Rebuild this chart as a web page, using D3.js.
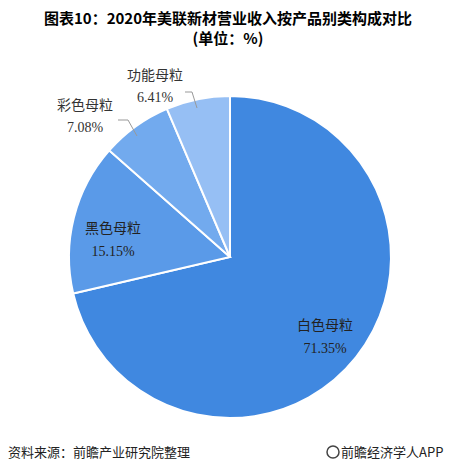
<!DOCTYPE html><html><head><meta charset="utf-8">
<script src="https://cdn.jsdelivr.net/npm/d3@7"></script>
<style>body{margin:0;background:#fff}</style></head><body>
<svg id="c" width="456" height="474"></svg>
<script>
const categories=["白色母粒","黑色母粒","彩色母粒","功能母粒"];
const values=[71.35,15.15,7.08,6.41];
const colors=["#4088e0","#5a9ae8","#72aaee","#96bff4"];
const svg=d3.select("#c");
const F="'Noto Sans CJK SC',sans-serif";
svg.append("text").attr("x",228).attr("y",24).attr("text-anchor","middle").attr("font-family",F).attr("font-weight","bold").attr("font-size",15).text("图表10：2020年美联新材营业收入按产品别类构成对比");
svg.append("text").attr("x",228).attr("y",44).attr("text-anchor","middle").attr("font-family",F).attr("font-weight","bold").attr("font-size",15).text("(单位：%)");
const cx=230,cy=257,r=161;
const pie=d3.pie().sort(null)(values);
const arc=d3.arc().innerRadius(0).outerRadius(r);
const g=svg.append("g").attr("transform",`translate(${cx},${cy})`);
g.selectAll("path").data(pie).join("path").attr("d",arc).attr("fill",(d,i)=>colors[i]).attr("stroke","#fff").attr("stroke-width",2);
// labels
const inside=[{i:0,x:325,y:330,c:"#222"},{i:1,x:113,y:233,c:"#222"}];
inside.forEach(o=>{
 svg.append("text").attr("x",o.x).attr("y",o.y).attr("text-anchor","middle").attr("font-family",F).attr("font-size",14).attr("fill",o.c).text(categories[o.i]);
 svg.append("text").attr("x",o.x).attr("y",o.y+23).attr("text-anchor","middle").attr("font-family","'Times New Roman','Liberation Serif',serif").attr("font-size",14).attr("fill",o.c).text(values[o.i].toFixed(2)+"%");
});
const outside=[{i:2,x:85,y:110,lx:[118,128,137],ly:[120,120,136]},{i:3,x:155,y:80,lx:[185,192,197],ly:[92,92,108]}];
outside.forEach(o=>{
 svg.append("text").attr("x",o.x).attr("y",o.y).attr("text-anchor","middle").attr("font-family",F).attr("font-size",14).attr("fill","#333").text(categories[o.i]);
 svg.append("text").attr("x",o.x).attr("y",o.y+22).attr("text-anchor","middle").attr("font-family","'Times New Roman','Liberation Serif',serif").attr("font-size",14).attr("fill","#333").text(values[o.i].toFixed(2)+"%");
 svg.append("polyline").attr("points",o.lx.map((x,k)=>x+","+o.ly[k]).join(" ")).attr("fill","none").attr("stroke","#999");
});
svg.append("text").attr("x",8).attr("y",457).attr("font-family",F).attr("font-size",13).attr("fill","#222").text("资料来源：前瞻产业研究院整理");
svg.append("circle").attr("cx",333).attr("cy",452).attr("r",6).attr("fill","none").attr("stroke","#444").attr("stroke-width",1.5);
svg.append("text").attr("x",341).attr("y",457).attr("font-family",F).attr("font-size",13).attr("fill","#222").text("前瞻经济学人APP");
</script></body></html>
